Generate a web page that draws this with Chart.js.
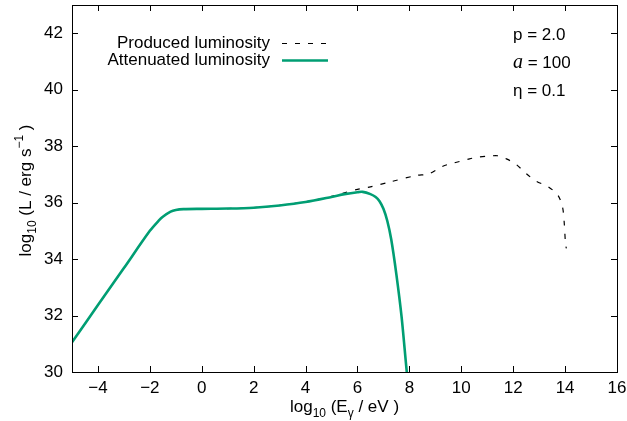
<!DOCTYPE html>
<html>
<head>
<meta charset="utf-8">
<script src="https://cdn.jsdelivr.net/npm/chart.js@4.4.1/dist/chart.umd.min.js"></script>
<style>
  html, body { margin: 0; padding: 0; background: #fff; }
  #chart { display: block; }
</style>
</head>
<body>
<canvas id="chart" width="627" height="421"></canvas>
<script>
// log10(E / eV) and log10(L / erg s^-1)
const producedX = [-5, -4, -3, -2, -1.65, -1.5, -1.2, -1.0, -0.7, 0, 1, 2, 3, 4, 5, 5.5, 6, 6.5, 7.2, 8.26, 8.75, 9.29, 9.7, 10.32, 10.64, 11.1, 11.4, 11.74, 12.12, 12.51, 12.9, 13.34, 13.73, 13.9, 13.96, 14.02, 14.05];
const producedY = [31.05, 32.37, 33.68, 35.0, 35.37, 35.5, 35.68, 35.74, 35.77, 35.78, 35.79, 35.82, 35.9, 36.03, 36.22, 36.35, 36.47, 36.56, 36.72, 36.96, 37.02, 37.29, 37.4, 37.55, 37.61, 37.65, 37.66, 37.55, 37.35, 37.02, 36.75, 36.57, 36.25, 35.84, 35.37, 34.49, 34.38];

const attenX = [-5, -4, -3, -2, -1.65, -1.5, -1.2, -1.0, -0.7, 0, 1, 2, 3, 4, 5, 5.5, 6, 6.2, 6.5, 6.7, 6.85, 7.0, 7.15, 7.3, 7.5, 7.7, 7.9, 8.0];
const attenY = [31.05, 32.37, 33.68, 35.0, 35.37, 35.5, 35.68, 35.74, 35.77, 35.78, 35.79, 35.82, 35.9, 36.02, 36.2, 36.3, 36.37, 36.38, 36.3, 36.2, 36.05, 35.78, 35.35, 34.7, 33.45, 31.95, 30.0, 29.2];

const xTicks = [-4, -2, 0, 2, 4, 6, 8, 10, 12, 14, 16];
const yTicks = [30, 32, 34, 36, 38, 40, 42];

const paramLines = ['p = 2.0', 'a = 100', 'η = 0.1'];

const FONT = '"Liberation Sans", Arial, sans-serif';
const green = '#009e73';

function toPoints(xs, ys) {
    return xs.map((x, i) => ({ x: x, y: ys[i] }));
}

// draw a string made of [text, size, yOffset] pieces, centred on cx
function drawPieces(ctx, pieces, cx, baseline) {
    let total = 0;
    pieces.forEach(p => {
        ctx.font = p[1] + 'px ' + FONT;
        total += ctx.measureText(p[0]).width;
    });
    let x = cx - total / 2;
    ctx.textAlign = 'left';
    ctx.textBaseline = 'alphabetic';
    pieces.forEach(p => {
        ctx.font = p[1] + 'px ' + FONT;
        ctx.fillText(p[0], x, baseline + p[2]);
        x += ctx.measureText(p[0]).width;
    });
}

const framePlugin = {
    id: 'frame',
    afterDatasetsDraw(chart) {
        const ctx = chart.ctx;
        const a = chart.chartArea;
        const xs = chart.scales.x;
        const ys = chart.scales.y;
        ctx.save();
        ctx.strokeStyle = '#000';
        ctx.lineWidth = 1;
        ctx.strokeRect(a.left + 0.5, a.top + 0.5, a.right - a.left, a.bottom - a.top);
        ctx.beginPath();
        xTicks.forEach(v => {
            const px = Math.round(xs.getPixelForValue(v)) + 0.5;
            ctx.moveTo(px, a.bottom); ctx.lineTo(px, a.bottom - 6);
            ctx.moveTo(px, a.top); ctx.lineTo(px, a.top + 6);
        });
        yTicks.forEach(v => {
            const py = Math.round(ys.getPixelForValue(v)) + 0.5;
            ctx.moveTo(a.left, py); ctx.lineTo(a.left + 6, py);
            ctx.moveTo(a.right, py); ctx.lineTo(a.right - 6, py);
        });
        ctx.stroke();

        // axis titles
        ctx.fillStyle = '#000';
        drawPieces(ctx, [['log', 17, 0], ['10', 12, 5], [' (E', 17, 0], ['γ', 12, 5], [' / eV )', 17, 0]],
            (a.left + a.right) / 2, 412);
        ctx.save();
        ctx.translate(31, (a.top + a.bottom) / 2 + 2);
        ctx.rotate(-Math.PI / 2);
        drawPieces(ctx, [['log', 17, 0], ['10', 12, 5], [' (L / erg s', 17, 0], ['−1', 12, -8], [' )', 17, 0]], 0, 0);
        ctx.restore();

        // legend, text right-aligned with the line sample after it
        const ds = chart.data.datasets;
        ctx.textAlign = 'right';
        ctx.textBaseline = 'middle';
        ctx.font = '17px ' + FONT;
        [43, 60].forEach((yy, i) => {
            ctx.fillStyle = '#000';
            ctx.fillText(ds[i].label, 270, yy);
            ctx.beginPath();
            ctx.strokeStyle = ds[i].borderColor;
            ctx.lineWidth = ds[i].borderWidth;
            ctx.setLineDash(ds[i].borderDash || []);
            ctx.moveTo(282, yy + 0.5);
            ctx.lineTo(328, yy + 0.5);
            ctx.stroke();
        });
        ctx.setLineDash([]);

        // parameters
        ctx.textAlign = 'left';
        ctx.fillStyle = '#000';
        [35, 63, 91].forEach((yy, i) => {
            const t = paramLines[i];
            if (t.startsWith('a')) {
                ctx.font = 'italic 20px "Liberation Serif", serif';
                ctx.fillText('a', 513, yy);
                const w = ctx.measureText('a').width;
                ctx.font = '17px ' + FONT;
                ctx.fillText(t.slice(1), 513 + w, yy);
            } else {
                ctx.font = '17px ' + FONT;
                ctx.fillText(t, 513, yy);
            }
        });
        ctx.restore();
    }
};

new Chart(document.getElementById('chart'), {
    type: 'scatter',
    data: {
        datasets: [{
            label: 'Produced luminosity',
            data: toPoints(producedX, producedY),
            showLine: true,
            borderColor: '#000',
            borderWidth: 1.2,
            borderDash: [5, 8],
            pointRadius: 0,
            tension: 0.3,
            fill: false,
            order: 1
        }, {
            label: 'Attenuated luminosity',
            data: toPoints(attenX, attenY),
            showLine: true,
            borderColor: green,
            borderWidth: 2.6,
            pointRadius: 0,
            tension: 0.3,
            fill: false,
            order: 0
        }]
    },
    options: {
        responsive: false,
        animation: false,
        devicePixelRatio: 1,
        layout: { padding: { left: 0, right: 10, top: 5, bottom: 0 } },
        plugins: {
            legend: { display: false },
            tooltip: { enabled: false }
        },
        scales: {
            x: {
                type: 'linear',
                min: -5,
                max: 16,
                grid: { display: false, drawTicks: false },
                border: { display: false },
                afterBuildTicks: axis => { axis.ticks = xTicks.map(v => ({ value: v })); },
                afterFit: axis => { axis.height = 49; axis.paddingLeft = 0; axis.paddingRight = 0; },
                ticks: {
                    padding: 6,
                    color: '#000',
                    font: { family: FONT, size: 17 },
                    callback: v => (v < 0 ? '−' + Math.abs(v) : String(v))
                }
            },
            y: {
                type: 'linear',
                min: 30,
                max: 43,
                grid: { display: false, drawTicks: false },
                border: { display: false },
                afterBuildTicks: axis => { axis.ticks = yTicks.map(v => ({ value: v })); },
                afterFit: axis => { axis.width = 72; axis.paddingTop = 0; axis.paddingBottom = 0; },
                ticks: {
                    padding: 9,
                    color: '#000',
                    font: { family: FONT, size: 17 }
                }
            }
        }
    },
    plugins: [framePlugin]
});
</script>
</body>
</html>
